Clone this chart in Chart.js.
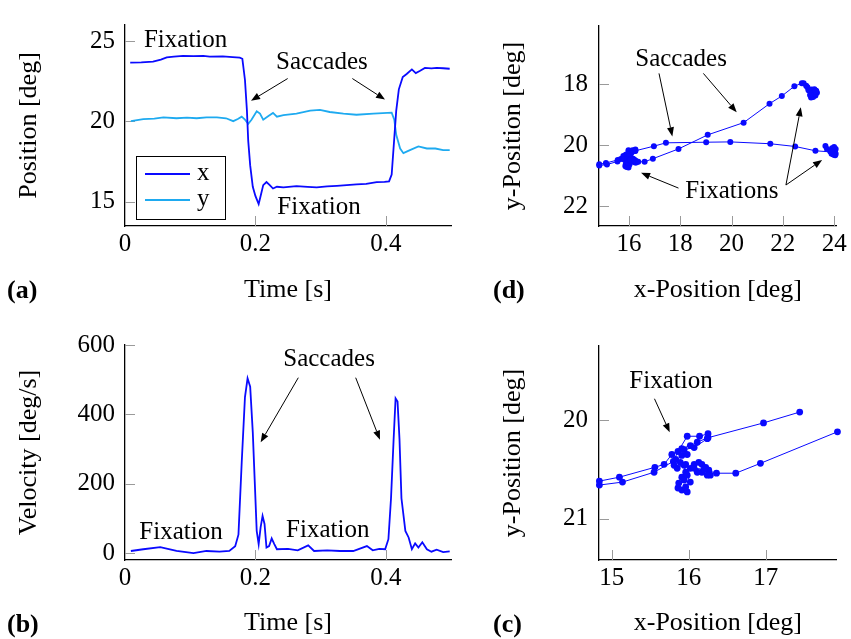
<!DOCTYPE html>
<html>
<head>
<meta charset="utf-8">
<script src="https://cdn.jsdelivr.net/npm/chart.js@4/dist/chart.umd.min.js"></script>
<style>
  body { margin: 0; background: #fff; }
  #page { position: relative; width: 851px; height: 639px; overflow: hidden; }
  .panel { position: absolute; }
  .tag { position: absolute; font: bold 26px 'Liberation Serif', serif; line-height: 26px; color: #000; }
</style>
</head>
<body>
<div id="page">
  <canvas class="panel" id="chart-a" width="470" height="320" style="left:0;top:0"></canvas>
  <canvas class="panel" id="chart-b" width="470" height="319" style="left:0;top:320px"></canvas>
  <canvas class="panel" id="chart-d" width="381" height="320" style="left:470px;top:0"></canvas>
  <canvas class="panel" id="chart-c" width="381" height="319" style="left:470px;top:320px"></canvas>
  <div class="tag" style="left:7px;top:277px">(a)</div>
  <div class="tag" style="left:7px;top:611px">(b)</div>
  <div class="tag" style="left:493px;top:277px">(d)</div>
  <div class="tag" style="left:493px;top:611px">(c)</div>
</div>
<script>
// ============================================================================
// DATA
// ============================================================================

// (a) eye position over time
const tPosX = [0.008, 0.025, 0.043, 0.055, 0.064, 0.075, 0.089, 0.105, 0.120, 0.130, 0.150, 0.165, 0.176, 0.180, 0.184, 0.187, 0.189, 0.192, 0.196, 0.200, 0.205, 0.208, 0.212, 0.217, 0.222, 0.227, 0.233, 0.243, 0.263, 0.280, 0.294, 0.310, 0.325, 0.340, 0.355, 0.370, 0.386, 0.398, 0.405, 0.409, 0.412, 0.416, 0.420, 0.426, 0.432, 0.440, 0.446, 0.452, 0.460, 0.470, 0.478, 0.488, 0.498];
const posX = [23.66, 23.68, 23.72, 23.85, 23.99, 24.03, 24.08, 24.06, 24.08, 24.03, 24.05, 24.0, 23.97, 23.9, 22.58, 20.68, 18.79, 17.27, 15.94, 15.37, 14.86, 15.37, 16.04, 16.23, 16.04, 15.83, 15.94, 15.9, 15.98, 15.93, 15.9, 15.97, 16.0, 16.04, 16.09, 16.12, 16.23, 16.25, 16.28, 16.7, 18.4, 20.68, 22.0, 22.76, 22.95, 23.24, 23.01, 23.14, 23.33, 23.30, 23.33, 23.31, 23.28];
const tPosY = [0.009, 0.028, 0.045, 0.059, 0.079, 0.095, 0.110, 0.125, 0.141, 0.155, 0.166, 0.173, 0.179, 0.184, 0.189, 0.194, 0.202, 0.207, 0.212, 0.220, 0.227, 0.233, 0.243, 0.263, 0.284, 0.299, 0.314, 0.335, 0.355, 0.381, 0.409, 0.413, 0.416, 0.422, 0.427, 0.437, 0.450, 0.463, 0.476, 0.488, 0.498];
const posY = [20.02, 20.15, 20.18, 20.26, 20.2, 20.24, 20.2, 20.25, 20.26, 20.2, 20.02, 20.15, 20.3, 20.11, 19.86, 20.11, 20.64, 20.49, 20.11, 20.34, 20.53, 20.3, 20.4, 20.49, 20.68, 20.72, 20.59, 20.49, 20.42, 20.49, 20.55, 20.11, 19.17, 18.32, 18.03, 18.22, 18.45, 18.32, 18.32, 18.22, 18.22];

// (b) eye velocity over time
const tVel = [0.009, 0.028, 0.054, 0.079, 0.105, 0.125, 0.145, 0.160, 0.169, 0.174, 0.179, 0.184, 0.188, 0.192, 0.196, 0.199, 0.202, 0.205, 0.208, 0.211, 0.214, 0.217, 0.221, 0.225, 0.229, 0.233, 0.250, 0.265, 0.281, 0.290, 0.310, 0.330, 0.350, 0.371, 0.380, 0.390, 0.399, 0.404, 0.408, 0.412, 0.415, 0.418, 0.421, 0.424, 0.430, 0.435, 0.440, 0.445, 0.450, 0.456, 0.463, 0.470, 0.478, 0.488, 0.498];
const vel = [6, 11, 17, 6, 0, 6, 4, 6, 20, 53, 261, 450, 504, 480, 348, 206, 64, 26, 74, 107, 84, 16, 20, 42, 26, 11, 12, 8, 22, 6, 8, 6, 6, 20, 8, 12, 11, 40, 158, 328, 446, 437, 328, 158, 64, 45, 11, 28, 16, 31, 11, 4, 10, 3, 5];

// (d) gaze path, split in fixations and saccades
const fix1X = [23.66, 23.72, 23.85, 23.95, 24.02, 24.06, 24.04, 23.98, 24.03, 24.06, 24.0, 23.92, 23.85, 23.9, 23.97, 23.9];
const fix1Y = [20.02, 20.12, 20.18, 20.26, 20.22, 20.28, 20.33, 20.3, 20.2, 20.12, 20.06, 20.1, 20.2, 20.28, 20.3, 20.22];
const sac1X = [23.27, 22.48, 21.51, 19.95, 19.01];
const sac1Y = [20.18, 20.04, 19.95, 19.89, 19.90];
// (c) is the zoom on this second fixation
const fix2X = [17.44, 16.97, 16.25, 16.11, 16.02, 15.91, 15.78, 15.68, 15.56, 15.10, 14.84, 14.84, 15.14, 15.55, 15.80, 15.86, 15.98, 16.14, 16.25, 16.24, 16.07, 15.94, 15.91, 15.98, 15.83, 15.89, 15.96, 15.85, 15.81, 15.94, 15.96, 15.91, 15.94, 15.87, 15.86, 15.91, 15.98, 15.96, 16.02, 15.98, 16.02, 16.07, 16.13, 16.17, 16.22, 16.26, 16.28, 16.24, 16.17, 16.11, 16.07, 16.20, 16.36, 16.61, 16.93, 17.93];
const fix2Y = [19.92, 20.03, 20.18, 20.225, 20.26, 20.29, 20.35, 20.45, 20.48, 20.58, 20.62, 20.66, 20.63, 20.53, 20.42, 20.32, 20.165, 20.165, 20.14, 20.19, 20.28, 20.30, 20.36, 20.35, 20.40, 20.43, 20.45, 20.49, 20.46, 20.46, 20.53, 20.58, 20.61, 20.64, 20.69, 20.71, 20.73, 20.68, 20.63, 20.56, 20.49, 20.45, 20.43, 20.45, 20.48, 20.51, 20.56, 20.56, 20.53, 20.53, 20.49, 20.50, 20.54, 20.54, 20.44, 20.12];
const sac2X = [19.07, 20.47, 21.48, 21.96, 22.45, 22.74];
const sac2Y = [19.66, 19.26, 18.64, 18.39, 18.07, 17.97];
const fix3X = [22.81, 22.91, 22.96, 23.0, 23.12, 23.23, 23.30, 23.33, 23.27, 23.18, 23.1, 23.06, 23.15, 23.25, 23.3, 23.28];
const fix3Y = [17.97, 18.05, 18.1, 18.2, 18.18, 18.17, 18.22, 18.28, 18.37, 18.42, 18.44, 18.36, 18.3, 18.3, 18.26, 18.22];

// tick values
const timeTicks = [0, 0.2, 0.4];
const posTicks = [15, 20, 25];
const velTicks = [0, 200, 400, 600];
const dXTicks = [16, 18, 20, 22, 24];
const dYTicks = [18, 20, 22];
const cXTicks = [15, 16, 17];
const cYTicks = [20, 21];

// ============================================================================
// STYLE + HELPERS
// ============================================================================

const SERIF = "'Liberation Serif', 'Times New Roman', serif";
const BLUE = 'rgb(10,10,255)';
const CYAN = 'rgb(30,170,240)';
const TICK_GRAY = '#9a9a9a';

const pts = (xs, ys) => xs.map((v, i) => ({ x: v, y: ys[i] }));

function axis(o) {
  return {
    type: 'linear', min: o.min, max: o.max, reverse: !!o.reverse,
    afterBuildTicks: s => { s.ticks = o.ticks.map(v => ({ value: v })); },
    afterFit: s => { if (o.horizontal) s.height = o.size; else s.width = o.size; },
    grid: { display: false, drawTicks: false },
    border: { display: true, color: '#000', width: 1.3 },
    ticks: { color: '#000', font: { family: SERIF, size: 25 }, padding: o.tickPad,
             autoSkip: false, maxRotation: 0, callback: v => String(v) },
    title: { display: true, text: o.title, color: '#000', font: { family: SERIF, size: 26 },
             padding: o.horizontal ? { top: 0, bottom: o.titlePad } : { top: o.titlePad, bottom: 0 } }
  };
}

// pgfplots style ticks pointing into the plot
const inTicks = {
  id: 'inTicks',
  beforeDatasetsDraw(chart) {
    const { ctx, chartArea: a, scales: { x, y } } = chart;
    ctx.save();
    ctx.strokeStyle = TICK_GRAY;
    ctx.lineWidth = 1;
    ctx.beginPath();
    x.ticks.forEach(t => {
      const p = Math.round(x.getPixelForValue(t.value)) + 0.5;
      if (p - a.left < 2) return;
      ctx.moveTo(p, a.bottom); ctx.lineTo(p, a.bottom - 10);
    });
    y.ticks.forEach(t => {
      const p = Math.round(y.getPixelForValue(t.value)) + 0.5;
      if (a.bottom - p < 2) return;
      ctx.moveTo(a.left, p); ctx.lineTo(a.left + 10, p);
    });
    ctx.stroke();
    ctx.restore();
  }
};

function drawArrow(ctx, x1, y1, x2, y2) {
  const ang = Math.atan2(y2 - y1, x2 - x1);
  const len = 9, half = 3.5;
  const bx = x2 - Math.cos(ang) * len, by = y2 - Math.sin(ang) * len;
  ctx.beginPath();
  ctx.moveTo(x1, y1); ctx.lineTo(bx, by);
  ctx.stroke();
  ctx.beginPath();
  ctx.moveTo(x2, y2);
  ctx.lineTo(bx - Math.sin(ang) * half, by + Math.cos(ang) * half);
  ctx.lineTo(bx + Math.sin(ang) * half, by - Math.cos(ang) * half);
  ctx.closePath();
  ctx.fill();
}

// text labels and arrows, placed in data coordinates
function notes(texts, arrows) {
  return {
    id: 'notes',
    afterDatasetsDraw(chart) {
      const { ctx, scales: { x, y } } = chart;
      ctx.save();
      ctx.fillStyle = '#000';
      ctx.strokeStyle = '#000';
      ctx.lineWidth = 1;
      ctx.font = `25px ${SERIF}`;
      ctx.textAlign = 'center';
      ctx.textBaseline = 'middle';
      texts.forEach(n => ctx.fillText(n.text, x.getPixelForValue(n.x), y.getPixelForValue(n.y)));
      arrows.forEach(([ax, ay, bx, by]) =>
        drawArrow(ctx, x.getPixelForValue(ax), y.getPixelForValue(ay), x.getPixelForValue(bx), y.getPixelForValue(by)));
      ctx.restore();
    }
  };
}

// boxed legend in the lower left corner of (a)
const boxLegend = {
  id: 'boxLegend',
  afterDatasetsDraw(chart) {
    const { ctx, chartArea: a } = chart;
    const left = a.left + 11, bottom = a.bottom - 7, w = 89, h = 63;
    const top = bottom - h;
    ctx.save();
    ctx.fillStyle = '#fff';
    ctx.fillRect(left, top, w, h);
    ctx.strokeStyle = '#000';
    ctx.lineWidth = 1;
    ctx.strokeRect(left + 0.5, top + 0.5, w, h);
    ctx.font = `25px ${SERIF}`;
    ctx.textBaseline = 'alphabetic';
    chart.data.datasets.forEach((ds, i) => {
      const ry = top + 18 + i * 26;
      ctx.strokeStyle = ds.borderColor;
      ctx.lineWidth = ds.borderWidth;
      ctx.beginPath(); ctx.moveTo(left + 9, ry); ctx.lineTo(left + 54, ry); ctx.stroke();
      ctx.fillStyle = '#000';
      ctx.fillText(ds.label, left + 61, ry + 6);
    });
    ctx.restore();
  }
};

const baseOptions = (padding, scales) => ({
  responsive: false,
  animation: false,
  layout: { padding },
  plugins: { legend: { display: false }, tooltip: { enabled: false } },
  scales
});

const pathStyle = r => ({ borderColor: BLUE, backgroundColor: BLUE, borderWidth: 1, pointRadius: r,
                          pointBorderWidth: 0, pointBackgroundColor: BLUE, tension: 0, clip: false });

// ============================================================================
// CHARTS
// ============================================================================

function drawCharts() {
  new Chart(document.getElementById('chart-a'), {
    type: 'line',
    data: {
      datasets: [
        { label: 'x', data: pts(tPosX, posX), borderColor: BLUE, borderWidth: 1.8, pointRadius: 0, tension: 0 },
        { label: 'y', data: pts(tPosY, posY), borderColor: CYAN, borderWidth: 1.8, pointRadius: 0, tension: 0 }
      ]
    },
    options: baseOptions({ left: 0, top: 7, right: 19, bottom: 0 }, {
      x: axis({ min: 0, max: 0.5, ticks: timeTicks, horizontal: true, size: 94, tickPad: 3, title: 'Time [s]', titlePad: 14 }),
      y: axis({ min: 13.5, max: 26, ticks: posTicks, size: 125, tickPad: 10, title: 'Position [deg]', titlePad: 14 })
    }),
    plugins: [inTicks, boxLegend, notes(
      [{ x: 0.093, y: 25.06, text: 'Fixation' }, { x: 0.302, y: 23.7, text: 'Saccades' }, { x: 0.2975, y: 14.66, text: 'Fixation' }],
      [[0.2495, 22.67, 0.1933, 21.29], [0.3487, 22.67, 0.3988, 21.36]]
    )]
  });

  new Chart(document.getElementById('chart-b'), {
    type: 'line',
    data: {
      datasets: [
        { label: 'velocity', data: pts(tVel, vel), borderColor: BLUE, borderWidth: 1.8, pointRadius: 0, tension: 0 }
      ]
    },
    options: baseOptions({ left: 0, top: 21, right: 19, bottom: 0 }, {
      x: axis({ min: 0, max: 0.5, ticks: timeTicks, horizontal: true, size: 79, tickPad: 3, title: 'Time [s]', titlePad: 0 }),
      y: axis({ min: -20, max: 600, ticks: velTicks, size: 125, tickPad: 10, title: 'Velocity [deg/s]', titlePad: 14 })
    }),
    plugins: [inTicks, notes(
      [{ x: 0.313, y: 557, text: 'Saccades' }, { x: 0.0859, y: 58.7, text: 'Fixation' }, { x: 0.311, y: 64, text: 'Fixation' }],
      [[0.2658, 505.7, 0.2081, 319.4], [0.3538, 505.7, 0.391, 327]]
    )]
  });

  new Chart(document.getElementById('chart-d'), {
    type: 'line',
    data: {
      datasets: [{
        label: 'gaze',
        data: pts([...fix1X, ...sac1X, ...fix2X, ...sac2X, ...fix3X], [...fix1Y, ...sac1Y, ...fix2Y, ...sac2Y, ...fix3Y]),
        ...pathStyle(3)
      }]
    },
    options: baseOptions({ left: 0, top: 7, right: 14.3, bottom: 0 }, {
      x: axis({ min: 14.83, max: 24.1, ticks: dXTicks, horizontal: true, size: 94, tickPad: 3, title: 'x-Position [deg]', titlePad: 14 }),
      y: axis({ min: 16.1, max: 22.64, reverse: true, ticks: dYTicks, size: 129, tickPad: 11, title: 'y-Position [deg]', titlePad: 28 })
    }),
    plugins: [inTicks, notes(
      [{ x: 18.03, y: 17.19, text: 'Saccades' }, { x: 20.01, y: 21.52, text: 'Fixations' }],
      [[17.17, 17.65, 17.69, 19.71], [18.9, 17.65, 20.2, 18.92], [17.93, 21.4, 16.47, 20.9],
       [22.12, 21.3, 22.7, 18.76], [22.12, 21.3, 23.53, 20.48]]
    )]
  });

  new Chart(document.getElementById('chart-c'), {
    type: 'line',
    data: {
      datasets: [{ label: 'fixation', data: pts(fix2X, fix2Y), ...pathStyle(3.4) }]
    },
    options: baseOptions({ left: 0, top: 21, right: 14.3, bottom: 0 }, {
      x: axis({ min: 14.835, max: 17.92, ticks: cXTicks, horizontal: true, size: 79, tickPad: 3, title: 'x-Position [deg]', titlePad: 0 }),
      y: axis({ min: 19.25, max: 21.42, reverse: true, ticks: cYTicks, size: 129, tickPad: 11, title: 'y-Position [deg]', titlePad: 28 })
    }),
    plugins: [inTicks, notes(
      [{ x: 15.77, y: 19.61, text: 'Fixation' }],
      [[15.555, 19.785, 15.753, 20.125]]
    )]
  });
}

// canvas text only picks up the serif face once it is loaded
document.fonts.load("25px 'Liberation Serif'").then(drawCharts, drawCharts);
</script>
</body>
</html>
